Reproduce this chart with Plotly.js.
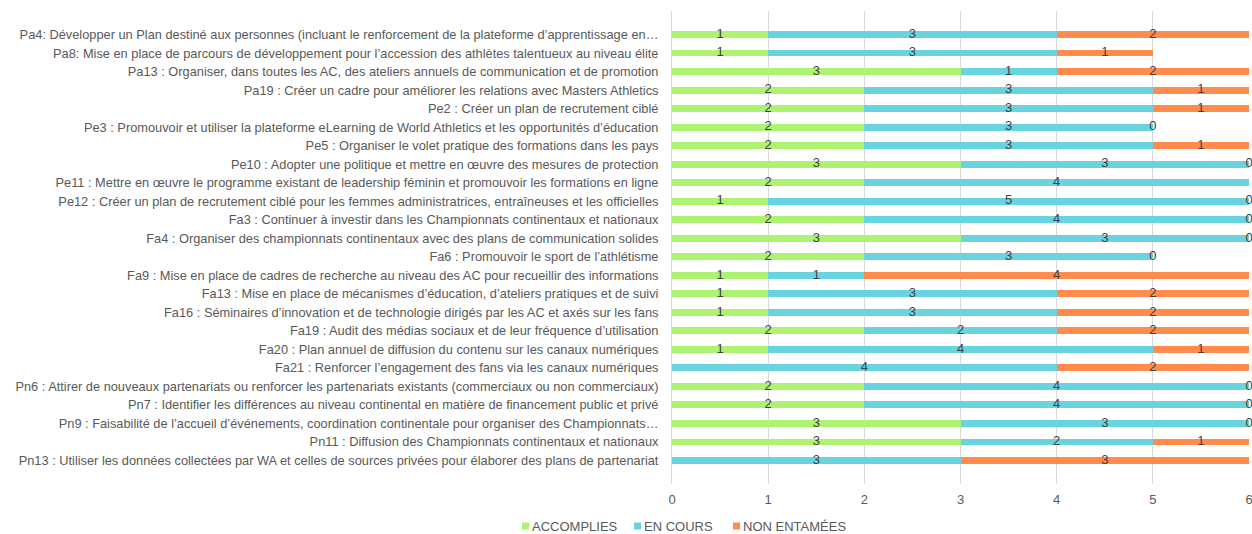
<!DOCTYPE html>
<html>
<head>
<meta charset="utf-8">
<script src="https://cdn.plot.ly/plotly-3.0.1.min.js"></script>
<style>html,body{margin:0;padding:0;background:#fff}#chart{width:1252px;height:534px}</style>
</head>
<body>
<div id="chart"></div>
<script>
const categories = [
  "Pa4: Développer un Plan destiné aux personnes (incluant le renforcement de la plateforme d’apprentissage en…",
  "Pa8: Mise en place de parcours de développement pour l’accession des athlètes talentueux au niveau élite",
  "Pa13 : Organiser, dans toutes les AC, des ateliers annuels de communication et de promotion",
  "Pa19 : Créer un cadre pour améliorer les relations avec Masters Athletics",
  "Pe2 : Créer un plan de recrutement ciblé",
  "Pe3 : Promouvoir et utiliser la plateforme eLearning de World Athletics et les opportunités d’éducation",
  "Pe5 : Organiser le volet pratique des formations dans les pays",
  "Pe10 : Adopter une politique et mettre en œuvre des mesures de protection",
  "Pe11 : Mettre en œuvre le programme existant de leadership féminin et promouvoir les formations en ligne",
  "Pe12 : Créer un plan de recrutement ciblé pour les femmes administratrices, entraîneuses et les officielles",
  "Fa3 : Continuer à investir dans les Championnats continentaux et nationaux",
  "Fa4 : Organiser des championnats continentaux avec des plans de communication solides",
  "Fa6 : Promouvoir le sport de l’athlétisme",
  "Fa9 : Mise en place de cadres de recherche au niveau des AC pour recueillir des informations",
  "Fa13 : Mise en place de mécanismes d’éducation, d’ateliers pratiques et de suivi",
  "Fa16 : Séminaires d’innovation et de technologie dirigés par les AC et axés sur les fans",
  "Fa19 : Audit des médias sociaux et de leur fréquence d’utilisation",
  "Fa20 : Plan annuel de diffusion du contenu sur les canaux numériques",
  "Fa21 : Renforcer l’engagement des fans via les canaux numériques",
  "Pn6 : Attirer de nouveaux partenariats ou renforcer les partenariats existants (commerciaux ou non commerciaux)",
  "Pn7 : Identifier les différences au niveau continental en matière de financement public et privé",
  "Pn9 : Faisabilité de l’accueil d’événements, coordination continentale pour organiser des Championnats…",
  "Pn11 : Diffusion des Championnats continentaux et nationaux",
  "Pn13 : Utiliser les données collectées par WA et celles de sources privées pour élaborer des plans de partenariat"
];
const accomplies  = [1,1,3,2,2,2,2,3,2,1,2,3,2,1,1,1,2,1,null,2,2,3,3,null];
const enCours     = [3,3,1,3,3,3,3,3,4,5,4,3,3,1,3,3,2,4,4,4,4,3,2,3];
const nonEntamees = [2,1,2,1,1,0,1,0,null,0,0,0,0,4,2,2,2,1,2,0,0,0,1,3];
const seriesNames = ["ACCOMPLIES","EN COURS","NON ENTAMÉES"];
const seriesColors = ["#adf270","#69d4e0","#ff8b4c"];
const xTicks = [0,1,2,3,4,5,6];

const FONT = 'Liberation Sans, Arial, sans-serif';
const series = [accomplies, enCours, nonEntamees];
const traces = [];
series.forEach((vals, i) => {
  traces.push({
    type: 'bar', orientation: 'h', name: seriesNames[i],
    y: categories, x: vals.map(v => v === null ? 0 : v),
    marker: {color: seriesColors[i]},
    textposition: 'none', hoverinfo: 'skip', showlegend: false
  });
});
// labels centred on each segment (computed from the data)
const starts = categories.map(() => 0);
series.forEach((vals, i) => {
  const xs = [], ys = [], ts = [];
  vals.forEach((v, k) => {
    if (v !== null) {
      xs.push(starts[k] + v / 2); ys.push(categories[k]); ts.push(String(v));
      starts[k] += v;
    }
  });
  traces.push({
    type: 'scatter', mode: 'text', x: xs, y: ys, text: ts,
    textposition: 'middle center', cliponaxis: false,
    textfont: {family: FONT, size: 13, color: '#404040'},
    showlegend: false, hoverinfo: 'skip'
  });
});

// legend drawn as swatches + text (position in pixels converted to paper coords)
const L = 672, R = 1249, T = 11, B = 484;
const px2x = p => (p - L) / (R - L);
const legendPx = [522, 634, 733];
const legendY = 526;
const shapes = [], annotations = [];
seriesNames.forEach((n, i) => {
  shapes.push({type: 'rect', xref: 'paper', yref: 'paper',
    x0: px2x(legendPx[i]), x1: px2x(legendPx[i] + 7),
    y0: (B - (legendY + 3.5)) / (B - T), y1: (B - (legendY - 3.5)) / (B - T),
    fillcolor: seriesColors[i], line: {width: 0}});
  annotations.push({xref: 'paper', yref: 'paper', x: px2x(legendPx[i] + 8), y: (B - legendY) / (B - T),
    xanchor: 'left', yanchor: 'middle', text: n, showarrow: false,
    font: {family: FONT, size: 13, color: '#595959'}});
});

const layout = {
  width: 1252, height: 534,
  margin: {l: L, r: 1252 - R, t: T, b: 534 - B},
  barmode: 'stack', bargap: 0.64,
  paper_bgcolor: '#fff', plot_bgcolor: '#fff',
  font: {family: FONT, size: 13, color: '#595959'},
  showlegend: false,
  shapes: shapes, annotations: annotations,
  xaxis: {range: [0, 6], tickvals: xTicks, showgrid: true, gridcolor: '#d9d9d9', gridwidth: 1,
          zeroline: false, showline: false, ticks: '', ticklabeloverflow: 'allow', ticklabelstandoff: 6,
          tickfont: {family: FONT, size: 13, color: '#595959'}, fixedrange: true},
  yaxis: {type: 'category', autorange: 'reversed', showgrid: false, zeroline: false,
          showline: true, linecolor: '#d9d9d9', ticks: '', ticklabelstandoff: 10,
          tickfont: {family: FONT, size: 12.8, color: '#595959'}, automargin: false, fixedrange: true}
};
Plotly.newPlot('chart', traces, layout, {displayModeBar: false, staticPlot: true});
</script>
</body>
</html>
